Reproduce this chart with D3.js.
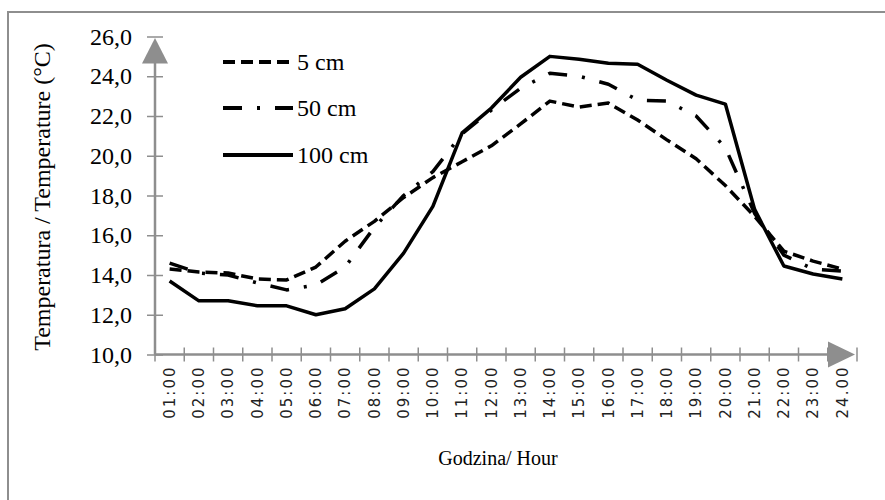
<!DOCTYPE html>
<meta charset="utf-8">
<style>
  body { margin: 0; background: #fff; }
  svg { display: block; }
</style>
<svg width="885" height="500"></svg>
<script src="https://d3js.org/d3.v7.min.js"></script>
<script>

var hours = ["01:00", "02:00", "03:00", "04:00", "05:00", "06:00", "07:00", "08:00",
             "09:00", "10:00", "11:00", "12:00", "13:00", "14:00", "15:00", "16:00",
             "17:00", "18:00", "19:00", "20:00", "21:00", "22:00", "23:00", "24.00"];

var t5 = [14.3, 14.15, 14.1, 13.8, 13.75, 14.4, 15.7, 16.7, 17.9, 18.9, 19.7, 20.5,
          21.6, 22.75, 22.45, 22.65, 21.8, 20.8, 19.85, 18.5, 16.95, 15.2, 14.7, 14.3];
var t50 = [14.6, 14.1, 14.0, 13.6, 13.25, 13.5, 14.4, 16.4, 18.0, 19.2, 21.1, 22.3,
           23.4, 24.15, 24.0, 23.6, 22.8, 22.75, 22.0, 20.4, 17.1, 15.0, 14.3, 14.2];
var t100 = [13.7, 12.7, 12.7, 12.45, 12.45, 12.0, 12.3, 13.3, 15.1, 17.45, 21.15, 22.4,
            23.95, 25.0, 24.85, 24.65, 24.6, 23.8, 23.05, 22.6, 17.3, 14.45, 14.05, 13.8];

var seriesNames = ["5 cm", "50 cm", "100 cm"];
var yTicks = [10, 12, 14, 16, 18, 20, 22, 24, 26];

var series = [
  {name: seriesNames[0], values: t5, dash: "12,6"},
  {name: seriesNames[1], values: t50, dash: "19,15,3,15"},
  {name: seriesNames[2], values: t100, dash: null}
];

var svg = d3.select("svg"),
    grey = "#8e8e8e",
    serif = "'Liberation Serif', 'Times New Roman', serif";

// plot edges (x0/x1 horizontal, y0 bottom, y1 top)
var x0 = 155, x1 = 857, y0 = 354.5, y1 = 36.5;

var x = d3.scaleBand()
    .domain(hours)
    .range([x0, x1]);

var y = d3.scaleLinear()
    .domain([10, 26])
    .range([y0, y1]);

// chart frame
svg.append("rect")
    .attr("x", 8)
    .attr("y", 12)
    .attr("width", 900)
    .attr("height", 520)
    .attr("fill", "none")
    .attr("stroke", grey)
    .attr("stroke-width", 2);

// y axis
var yAxis = svg.append("g")
    .attr("transform", "translate(" + x0 + ",0)")
    .call(d3.axisLeft(y).tickValues(yTicks).tickSize(8).tickPadding(15)
      .tickFormat(function(d) { return d3.format(".1f")(d).replace(".", ","); }));

yAxis.select(".domain").remove();
yAxis.selectAll(".tick line").attr("x1", 8).attr("stroke", grey).attr("stroke-width", 1.5);
yAxis.selectAll(".tick text")
    .attr("fill", "#000")
    .style("font-family", serif)
    .style("font-size", "24px");

svg.append("line")
    .attr("x1", x0).attr("x2", x0)
    .attr("y1", y0).attr("y2", y1 + 8)
    .attr("stroke", grey).attr("stroke-width", 2.5);

svg.append("path")
    .attr("d", "M" + x0 + "," + (y1 + 1.5) + "L" + (x0 - 13) + "," + (y1 + 27) +
               "L" + (x0 + 13) + "," + (y1 + 27) + "Z")
    .attr("fill", grey);

// x axis
var bounds = hours.map(function(h) { return x(h); }).concat([x1]);

svg.append("line")
    .attr("x1", x0).attr("x2", x1 - 8)
    .attr("y1", y0).attr("y2", y0)
    .attr("stroke", grey).attr("stroke-width", 2.5);

svg.selectAll(".xtick")
    .data(bounds)
  .enter().append("line")
    .attr("class", "xtick")
    .attr("x1", function(d) { return d; })
    .attr("x2", function(d) { return d; })
    .attr("y1", y0 - 7)
    .attr("y2", y0 + 7)
    .attr("stroke", grey)
    .attr("stroke-width", 1.5);

svg.append("path")
    .attr("d", "M" + (x1 - 2) + "," + y0 + "L" + (x1 - 29) + "," + (y0 - 13) +
               "L" + (x1 - 29) + "," + (y0 + 13) + "Z")
    .attr("fill", grey);

svg.selectAll(".xlabel")
    .data(hours)
  .enter().append("text")
    .attr("class", "xlabel")
    .attr("transform", function(d) {
      return "translate(" + (x(d) + x.bandwidth() / 2) + "," + (y0 + 11) + ") rotate(-90)";
    })
    .attr("text-anchor", "end")
    .attr("dy", "0.35em")
    .style("font-family", "'DejaVu Sans', sans-serif")
    .style("font-size", "15px")
    .style("letter-spacing", "2px")
    .attr("fill", "#222")
    .text(function(d) { return d; });

// axis titles
svg.append("text")
    .attr("transform", "translate(50,197) rotate(-90)")
    .attr("text-anchor", "middle")
    .style("font-family", serif)
    .style("font-size", "24px")
    .text("Temperatura / Temperature (°C)");

svg.append("text")
    .attr("x", 498)
    .attr("y", 465)
    .attr("text-anchor", "middle")
    .style("font-family", serif)
    .style("font-size", "20px")
    .text("Godzina/ Hour");

// lines
var line = d3.line()
    .x(function(d, i) { return x(hours[i]) + x.bandwidth() / 2; })
    .y(function(d) { return y(d); });

svg.selectAll(".series")
    .data(series)
  .enter().append("path")
    .attr("class", "series")
    .attr("d", function(d) { return line(d.values); })
    .attr("fill", "none")
    .attr("stroke", "#000")
    .attr("stroke-width", 3.5)
    .attr("stroke-linejoin", "round")
    .attr("stroke-dasharray", function(d) { return d.dash; });

// legend
var legend = svg.selectAll(".legend")
    .data(series)
  .enter().append("g")
    .attr("class", "legend")
    .attr("transform", function(d, i) { return "translate(223," + [62, 108, 155][i] + ")"; });

legend.append("line")
    .attr("x1", 0).attr("x2", 70)
    .attr("stroke", "#000")
    .attr("stroke-width", 4)
    .attr("stroke-dasharray", function(d) { return d.dash; });

legend.append("text")
    .attr("x", 74)
    .attr("dy", "0.33em")
    .style("font-family", serif)
    .style("font-size", "24px")
    .text(function(d) { return d.name; });

</script>
